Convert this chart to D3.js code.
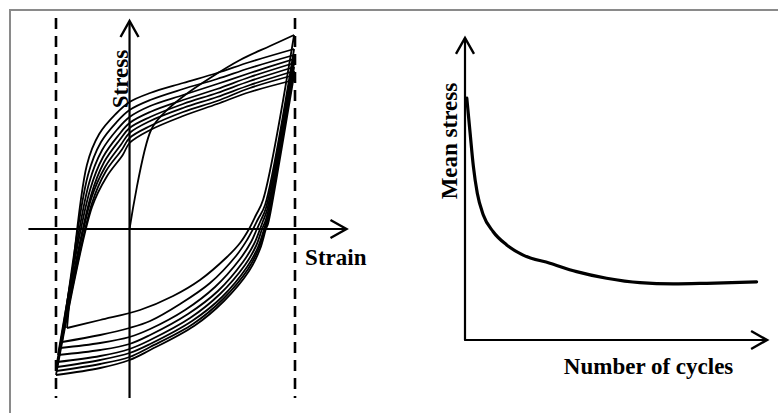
<!DOCTYPE html>
<html>
<head>
<meta charset="utf-8">
<script src="https://cdn.jsdelivr.net/npm/d3@7"></script>
<style>
  html, body { margin: 0; padding: 0; background: #fff; overflow: hidden; }
  text { font-family: "Liberation Serif", "Times New Roman", serif; font-weight: bold; fill: #000; }
</style>
</head>
<body>
<svg id="fig" width="778" height="413"></svg>
<script>
// ---- Hysteresis loops: strain (%) vs stress (MPa) ----
const strainLimits = [-0.4, 0.9];

// First (monotonic) loading from the origin
const initialLoading = [
  [0, 0], [0.117, 198], [0.193, 234], [0.302, 268], [0.438, 302],
  [0.601, 338], [0.764, 366], [0.895, 388]
];

// Unloading branches: peak -> valley, one per cycle
const unloadingBranches = [
  [[0.895,388],[0.726,58],[0.688,28],[0.650,0],[0.601,-28],[0.530,-56],[0.383,-102],[0.237,-134],[0.057,-162],[-0.160,-182],[-0.340,-198]],
  [[0.895,360],[0.737,48],[0.699,20],[0.672,0],[0.639,-22],[0.579,-54],[0.438,-108],[0.275,-150],[0.112,-184],[0,-198],[-0.160,-212],[-0.367,-226]],
  [[0.895,348],[0.742,42],[0.715,18],[0.693,0],[0.661,-26],[0.601,-60],[0.465,-116],[0.302,-162],[0.112,-200],[0,-216],[-0.160,-228],[-0.378,-238]],
  [[0.895,340],[0.748,38],[0.726,16],[0.710,0],[0.677,-30],[0.617,-66],[0.481,-124],[0.318,-170],[0.112,-212],[0,-230],[-0.160,-242],[-0.389,-252]],
  [[0.895,332],[0.753,34],[0.737,14],[0.721,0],[0.688,-34],[0.628,-72],[0.492,-130],[0.329,-178],[0.112,-222],[0,-240],[-0.160,-254],[-0.394,-266]],
  [[0.895,324],[0.759,32],[0.742,12],[0.732,0],[0.699,-36],[0.639,-76],[0.503,-136],[0.340,-184],[0.112,-230],[0,-248],[-0.160,-262],[-0.394,-276]],
  [[0.895,316],[0.759,30],[0.748,12],[0.737,0],[0.704,-38],[0.645,-80],[0.509,-140],[0.345,-190],[0.112,-236],[0,-256],[-0.160,-270],[-0.400,-284]],
  [[0.895,308],[0.764,28],[0.753,10],[0.742,0],[0.710,-40],[0.650,-84],[0.514,-144],[0.351,-194],[0.112,-242],[0,-262],[-0.160,-278],[-0.400,-292]]
];

// Reloading branches: valley -> next peak
const reloadingBranches = [
  [[-0.340,-198],[-0.232,128],[-0.165,190],[-0.075,230],[0,254],[0.112,272],[0.291,292],[0.476,312],[0.655,334],[0.895,360]],
  [[-0.367,-226],[-0.226,108],[-0.155,174],[-0.070,214],[0,238],[0.112,258],[0.291,280],[0.476,300],[0.655,322],[0.895,348]],
  [[-0.378,-238],[-0.220,92],[-0.149,158],[-0.065,200],[0,224],[0.112,246],[0.291,268],[0.476,290],[0.655,312],[0.895,340]],
  [[-0.389,-252],[-0.215,78],[-0.144,144],[-0.059,188],[0,212],[0.112,234],[0.291,258],[0.476,280],[0.655,304],[0.895,332]],
  [[-0.394,-266],[-0.209,68],[-0.138,134],[-0.054,178],[0,202],[0.112,224],[0.291,250],[0.476,272],[0.655,296],[0.895,324]],
  [[-0.394,-276],[-0.209,60],[-0.133,124],[-0.048,168],[0,192],[0.112,216],[0.291,242],[0.476,264],[0.655,288],[0.895,316]],
  [[-0.400,-284],[-0.204,52],[-0.128,116],[-0.043,158],[0,182],[0.112,206],[0.291,234],[0.476,256],[0.655,282],[0.895,308]],
  [[-0.400,-292],[-0.204,44],[-0.122,106],[-0.037,148],[0,172],[0.112,198],[0.291,226],[0.476,250],[0.655,274],[0.895,298]]
];

// ---- Mean stress relaxation: cycles vs mean stress (relative units) ----
const cycles     = [0.6, 1.7, 2.8, 4.1, 6.1, 9.4, 13.9, 19.4, 28.3, 37.2, 47.2, 58.3, 69.4, 80.6, 97.2];
const meanStress = [80.6, 69.0, 57.8, 48.9, 41.7, 36.1, 31.7, 28.3, 25.6, 22.8, 20.6, 19.1, 18.7, 18.9, 19.4];

const axisLabels = {
  stress: "Stress", strain: "Strain",
  mean: "Mean stress", cycles: "Number of cycles"
};

const svg = d3.select("#fig");

// Arrow head used on every axis
svg.append("defs").append("marker")
  .attr("id", "arrow")
  .attr("markerUnits", "userSpaceOnUse")
  .attr("viewBox", "-19 -11 22 22")
  .attr("markerWidth", 22).attr("markerHeight", 22)
  .attr("refX", 0).attr("refY", 0)
  .attr("orient", "auto")
  .append("path")
  .attr("d", "M-16,-9L0,0L-16,9")
  .attr("fill", "none").attr("stroke", "#000")
  .attr("stroke-width", 2.4).attr("stroke-linejoin", "miter");

// Outer frame
svg.append("rect")
  .attr("x", 10).attr("y", 10).attr("width", 900).attr("height", 600)
  .attr("fill", "none").attr("stroke", "#8a8a8a").attr("stroke-width", 2);

// ===== Left panel =====
const xS = d3.scaleLinear().domain(strainLimits).range([56, 295]);
const yS = d3.scaleLinear().domain([-300, 400]).range([379, 29]);
const left = svg.append("g");

// strain limits (dashed)
left.selectAll("line.limit").data(strainLimits).join("line")
  .attr("class", "limit")
  .attr("x1", d => xS(d)).attr("x2", d => xS(d))
  .attr("y1", yS(422)).attr("y2", yS(-338))
  .attr("stroke", "#000").attr("stroke-width", 2.6)
  .attr("stroke-dasharray", "11,7");

const loopLine = d3.line()
  .x(d => xS(d[0])).y(d => yS(d[1]))
  .curve(d3.curveCatmullRom.alpha(0.5));

const branches = [initialLoading, ...unloadingBranches, ...reloadingBranches];
left.selectAll("path.branch").data(branches).join("path")
  .attr("class", "branch")
  .attr("d", loopLine)
  .attr("fill", "none").attr("stroke", "#000")
  .attr("stroke-width", 1.8).attr("stroke-linejoin", "round");

// axes through the origin
left.append("line")
  .attr("x1", xS(-0.55)).attr("x2", xS(1.18))
  .attr("y1", yS(0)).attr("y2", yS(0))
  .attr("stroke", "#000").attr("stroke-width", 2.2)
  .attr("marker-end", "url(#arrow)");
left.append("line")
  .attr("x1", xS(0)).attr("x2", xS(0))
  .attr("y1", yS(-338)).attr("y2", yS(416))
  .attr("stroke", "#000").attr("stroke-width", 2.2)
  .attr("marker-end", "url(#arrow)");

left.append("text")
  .attr("transform", `translate(${xS(0) - 2},${yS(300)}) rotate(-90)`)
  .attr("text-anchor", "middle").attr("font-size", 23)
  .text(axisLabels.stress);
left.append("text")
  .attr("x", xS(0.955)).attr("y", yS(-72))
  .attr("font-size", 23)
  .text(axisLabels.strain);

// ===== Right panel =====
const xC = d3.scaleLinear().domain([0, 100]).range([465, 765]);
const yM = d3.scaleLinear().domain([0, 100]).range([340, 40]);
const right = svg.append("g");

right.append("path")
  .datum(cycles.map((c, i) => [c, meanStress[i]]))
  .attr("d", d3.line().x(d => xC(d[0])).y(d => yM(d[1])).curve(d3.curveMonotoneX))
  .attr("fill", "none").attr("stroke", "#000")
  .attr("stroke-width", 3.2).attr("stroke-linecap", "round");

right.append("line")
  .attr("x1", xC(0)).attr("x2", xC(0))
  .attr("y1", yM(0)).attr("y2", yM(100.7))
  .attr("stroke", "#000").attr("stroke-width", 2.2)
  .attr("marker-end", "url(#arrow)");
right.append("line")
  .attr("x1", xC(-0.3)).attr("x2", xC(100.7))
  .attr("y1", yM(0)).attr("y2", yM(0))
  .attr("stroke", "#000").attr("stroke-width", 2.2)
  .attr("marker-end", "url(#arrow)");

right.append("text")
  .attr("transform", `translate(${xC(-2.7)},${yM(66.3)}) rotate(-90)`)
  .attr("text-anchor", "middle").attr("font-size", 23)
  .text(axisLabels.mean);
right.append("text")
  .attr("x", xC(61.2)).attr("y", yM(-11.3))
  .attr("text-anchor", "middle").attr("font-size", 23)
  .text(axisLabels.cycles);
</script>
</body>
</html>
